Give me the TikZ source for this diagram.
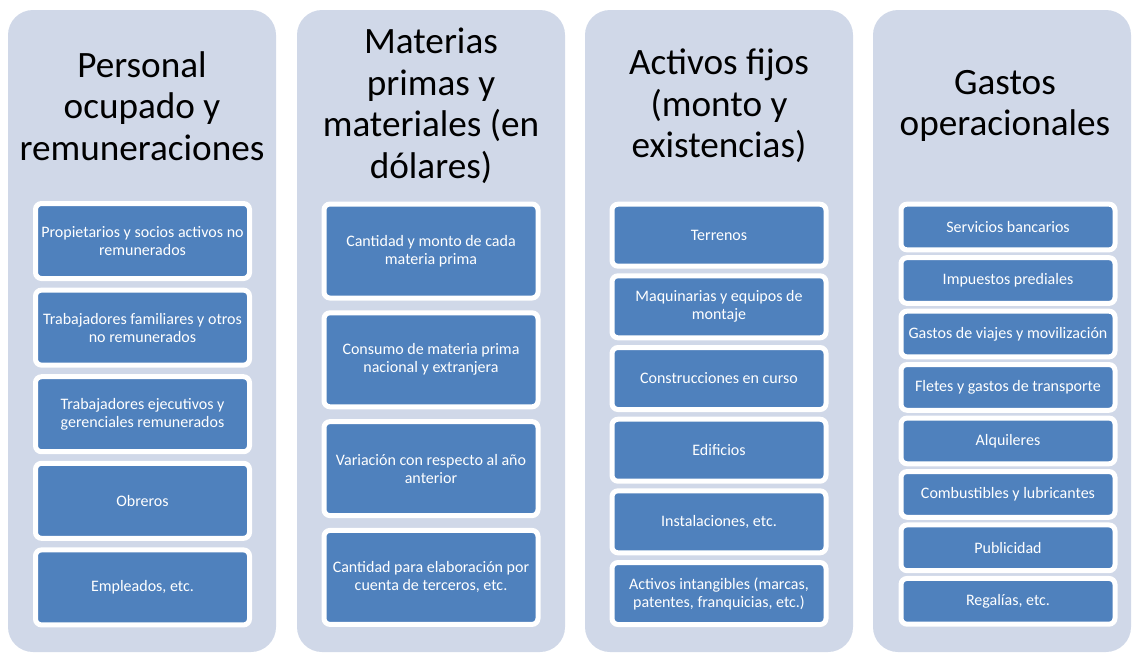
\documentclass[tikz,border=0pt]{standalone}
\usepackage{fontspec}
\setmainfont{Carlito}
\definecolor{panelbg}{HTML}{D0D8E8}
\definecolor{boxblue}{HTML}{4F81BD}
\tikzset{
  panelbox/.style={rectangle, fill=panelbg, rounded corners=25pt, inner sep=0pt, minimum height=642pt},
  ptitle/.style={align=center, text=black, font=\fontsize{37.2}{41.5}\selectfont, inner sep=0pt},
  itembox/.style={rectangle, fill=boxblue, draw=white, line width=5pt, rounded corners=6pt,
    inner sep=0pt, minimum width=214pt, text=white, align=center,
    font=\fontsize{16}{18}\selectfont},
  ib1/.style={itembox, minimum height=75pt},
  ib2/.style={itembox, minimum height=94pt},
  ib3/.style={itembox, minimum height=62pt},
  ib4/.style={itembox, minimum height=45.7pt},
}
\begin{document}
\begin{tikzpicture}[x=1pt,y=-1pt]
\useasboundingbox (0,0) rectangle (1133,653);
% panels
\node[panelbox, minimum width=268pt] (p1) at (142,331) {};
\node[panelbox, minimum width=268pt] (p2) at (431,331) {};
\node[panelbox, minimum width=268pt] (p3) at (719,331) {};
\node[panelbox, minimum width=258pt] (p4) at (1002,331) {};
% titles
\node[ptitle] (t1) at (142,106) {Personal\\ocupado y\\remuneraciones};
\node[ptitle] (t2) at (431,106) {Materias\\primas y\\materiales (en\\dólares)};
\node[ptitle] (t3) at (719,106) {Activos fijos\\(monto y\\existencias)};
\node[ptitle] (t4) at (1005,106) {Gastos\\operacionales};
% panel 1
\node[ib1] (a1) at (142.5,241) {Propietarios y socios activos no\\remunerados};
\node[ib1] (a2) at (142.5,327.6) {Trabajadores familiares y otros\\no remunerados};
\node[ib1] (a3) at (142.5,414.2) {Trabajadores ejecutivos y\\gerenciales remunerados};
\node[ib1] (a4) at (142.5,500.8) {Obreros};
\node[ib1] (a5) at (142.5,587.4) {Empleados, etc.};
% panel 2
\node[ib2] (b1) at (431,251) {Cantidad y monto de cada\\materia prima};
\node[ib2] (b2) at (431,359.8) {Consumo de materia prima\\nacional y extranjera};
\node[ib2] (b3) at (431,468.6) {Variación con respecto al año\\anterior};
\node[ib2] (b4) at (431,577.4) {Cantidad para elaboración por\\cuenta de terceros, etc.};
% panel 3
\node[ib3] (c1) at (719,235.2) {Terrenos};
\node[ib3] (c2) at (719,306.8) {Maquinarias y equipos de\\montaje};
\node[ib3] (c3) at (719,378.5) {Construcciones en curso};
\node[ib3] (c4) at (719,450.2) {Edificios};
\node[ib3] (c5) at (719,521.8) {Instalaciones, etc.};
\node[ib3] (c6) at (719,593.5) {Activos intangibles (marcas,\\patentes, franquicias, etc.)};
% panel 4
\node[ib4] (d1) at (1008,227) {Servicios bancarios};
\node[ib4] (d2) at (1008,280.5) {Impuestos prediales};
\node[ib4] (d3) at (1008,334) {Gastos de viajes y movilización};
\node[ib4] (d4) at (1008,387.4) {Fletes y gastos de transporte};
\node[ib4] (d5) at (1008,440.9) {Alquileres};
\node[ib4] (d6) at (1008,494.4) {Combustibles y lubricantes};
\node[ib4] (d7) at (1008,547.8) {Publicidad};
\node[ib4] (d8) at (1008,601.3) {Regalías, etc.};
\end{tikzpicture}
\end{document}
